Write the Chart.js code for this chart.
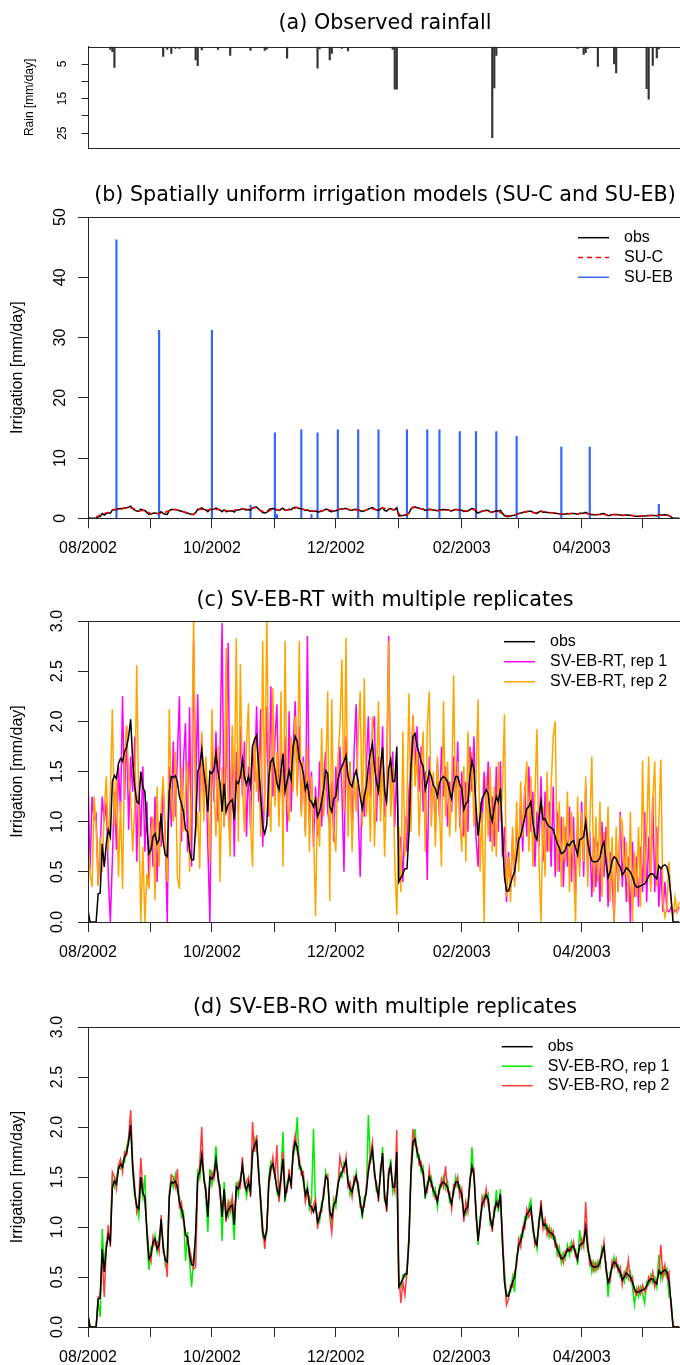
<!DOCTYPE html>
<html>
<head>
<meta charset="utf-8">
<title>Irrigation models</title>
<script src="https://cdn.jsdelivr.net/npm/chart.js@4.4.1/dist/chart.umd.min.js"></script>
<style>
  html, body { margin: 0; padding: 0; background: #fff; width: 680px; height: 1365px; overflow: hidden; }
  canvas { position: absolute; left: 0; }
</style>
</head>
<body>
<canvas id="rain" width="770" height="160" style="top:7px"></canvas>
<canvas id="su" width="770" height="390" style="top:179px"></canvas>
<canvas id="rt" width="770" height="385" style="top:584px"></canvas>
<canvas id="ro" width="770" height="374" style="top:991px"></canvas>
<script>
// day 0 = 01/08/2002, one value per day
var monthTickDays = [0, 31, 61, 92, 122, 153, 184, 212, 243, 273];
var monthTickLabels = ['08/2002', '', '10/2002', '', '12/2002', '', '02/2003', '', '04/2003', ''];

var rainTicks = [5, 10, 15, 20, 25];
var rainTickLabels = ['5', '', '15', '', '25'];
var suTicks = [0, 10, 20, 30, 40, 50];
var suTickLabels = ['0', '10', '20', '30', '40', '50'];
var irrTicks = [0, 0.5, 1, 1.5, 2, 2.5, 3];
var irrTickLabels = ['0.0', '0.5', '1.0', '1.5', '2.0', '2.5', '3.0'];

// (a) observed rainfall
var rainDays = [11, 12, 13, 37, 39, 41, 43, 45, 53, 54, 56, 64, 70, 80, 87, 88, 98, 113, 114, 119, 120, 125, 128,
  150, 151, 152, 199, 200, 201, 241, 244, 245, 246, 251, 259, 260, 275, 276, 278, 280, 281];
var rainVals = [0.8, 1.4, 6.0, 2.8, 0.8, 1.9, 0.5, 0.5, 3.8, 5.5, 0.9, 0.8, 2.5, 1.1, 1.1, 0.7, 3.3, 6.2, 0.6, 3.8, 1.9, 0.5, 1.2,
  0.8, 12.3, 12.3, 26.3, 11.9, 2.5, 0.5, 2.2, 1.7, 0.5, 5.7, 5.0, 7.6, 12.1, 15.2, 5.4, 3.2, 0.6];

// (b) SU-EB irrigation events
var suebDays = [14, 35, 61, 80, 92, 93, 105, 110, 113, 123, 133, 143, 157, 167, 173, 183, 191, 201, 211, 233, 247, 281];
var suebVals = [46.2, 31.2, 31.2, 2.2, 14.2, 0.6, 14.7, 0.6, 14.2, 14.7, 14.7, 14.7, 14.7, 14.7, 14.7, 14.4, 14.4, 14.4, 13.6, 11.8, 11.8, 2.3];

// (b) SU-C
var sucDays = [4, 7, 10, 13, 16, 19, 22, 25, 28, 31, 34, 37, 40, 43, 46, 49, 52, 55, 58, 61, 64, 67, 70, 73, 76, 79, 82, 85, 88, 91,
  94, 97, 100, 103, 106, 109, 112, 115, 118, 121, 124, 127, 130, 133, 136, 139, 142, 145, 148, 151, 154, 157, 160, 163, 166, 169,
  172, 175, 178, 181, 184, 187, 190, 193, 196, 199, 202, 205, 208, 211, 214, 217, 220, 223, 226, 229, 232, 235, 238, 241, 244,
  247, 250, 253, 256, 259, 262, 265, 268, 271, 274, 277, 280, 283, 286, 289];
var sucVals = [0.2, 0.75, 0.95, 1.45, 1.6, 1.75, 1.65, 1.25, 1.3, 0.75, 0.8, 0.85, 1.3, 1.45, 1.2, 0.9, 0.65, 1.55, 1.35, 1.45,
  1.5, 1.35, 1.2, 1.4, 1.6, 1.45, 1.8, 1.25, 1.0, 1.6, 1.35, 1.35, 1.45, 1.8, 1.5, 1.25, 1.2, 1.2, 1.45, 1.2,
  1.5, 1.6, 1.35, 1.4, 1.25, 1.65, 1.4, 1.7, 1.5, 1.45, 0.45, 0.55, 1.85, 1.65, 1.35, 1.45, 1.25, 1.45, 1.3, 1.45,
  1.3, 1.2, 1.5, 1.05, 1.3, 1.0, 1.2, 0.5, 0.4, 0.65, 0.95, 1.15, 0.9, 1.15, 1.0, 0.9, 0.75, 0.72, 0.8, 0.7,
  0.85, 0.7, 0.6, 0.72, 0.5, 0.65, 0.55, 0.52, 0.45, 0.36, 0.38, 0.47, 0.44, 0.55, 0.45, 0];

// observed irrigation
var obs = [
  0.12, 0, 0, 0, 0, 0.28, 0.29, 0.78, 0.55, 0.78,
  0.92, 0.85, 1.40, 1.46, 1.43, 1.58, 1.63, 1.60, 1.70, 1.74,
  1.85, 2.02, 1.60, 1.35, 1.20, 1.18, 1.50, 1.34, 1.30, 0.95,
  0.68, 0.72, 0.85, 0.88, 0.78, 0.82, 1.08, 0.80, 0.67, 0.65,
  1.30, 1.45, 1.44, 1.46, 1.40, 1.25, 1.18, 1.10, 0.92, 0.90,
  0.72, 0.62, 0.62, 0.95, 1.50, 1.55, 1.72, 1.50, 1.35, 1.10,
  1.50, 1.48, 1.52, 1.68, 1.50, 1.38, 1.10, 1.38, 1.10, 1.17,
  1.20, 1.22, 1.02, 1.40, 1.38, 1.45, 1.62, 1.45, 1.37, 1.45,
  1.35, 1.75, 1.82, 1.86, 1.55, 1.25, 0.95, 0.88, 0.97, 1.45,
  1.60, 1.63, 1.52, 1.38, 1.32, 1.50, 1.68, 1.30, 1.40, 1.51,
  1.42, 1.75, 1.85, 1.80, 1.62, 1.57, 1.48, 1.32, 1.38, 1.22,
  1.20, 1.15, 1.22, 1.05, 1.10, 1.20, 1.32, 1.51, 1.48, 1.15,
  1.10, 1.23, 1.25, 1.42, 1.50, 1.55, 1.60, 1.66, 1.45, 1.38,
  1.35, 1.45, 1.51, 1.40, 1.25, 1.13, 1.25, 1.35, 1.55, 1.68,
  1.78, 1.55, 1.40, 1.30, 1.55, 1.74, 1.30, 1.20, 1.53, 1.62,
  1.40, 1.40, 1.75, 0.40, 0.44, 0.48, 0.53, 0.53, 0.88, 1.55,
  1.85, 1.88, 1.75, 1.68, 1.60, 1.55, 1.32, 1.40, 1.50, 1.45,
  1.36, 1.33, 1.25, 1.38, 1.43, 1.45, 1.43, 1.40, 1.30, 1.23,
  1.37, 1.45, 1.45, 1.37, 1.33, 1.12, 1.18, 1.20, 1.45, 1.61,
  1.52, 1.15, 0.86, 1.05, 1.23, 1.27, 1.32, 1.28, 1.08, 1.00,
  1.15, 1.25, 1.20, 1.33, 0.85, 0.45, 0.31, 0.31, 0.38, 0.45,
  0.50, 0.66, 0.82, 0.86, 0.95, 1.04, 1.13, 1.15, 1.20, 1.00,
  0.86, 0.82, 1.05, 1.20, 1.02, 1.03, 0.98, 0.95, 0.94, 0.92,
  0.85, 0.78, 0.74, 0.68, 0.69, 0.72, 0.78, 0.76, 0.80, 0.81,
  0.74, 0.67, 0.82, 0.83, 0.85, 1.00, 0.80, 0.68, 0.61, 0.60,
  0.60, 0.61, 0.64, 0.75, 0.80, 0.60, 0.44, 0.50, 0.61, 0.65,
  0.63, 0.58, 0.55, 0.47, 0.50, 0.54, 0.52, 0.50, 0.45, 0.38,
  0.35, 0.35, 0.36, 0.37, 0.38, 0.41, 0.46, 0.48, 0.48, 0.45,
  0.43, 0.56, 0.53, 0.56, 0.57, 0.55, 0.45, 0.25, 0, 0,
  0, 0];

// (c) SV-EB-RT replicates
var rtRep1 = [
  1.47, 0.52, 1.25, 1.02, 1.07, 0.37, 0.72, 1.25, 1.00, 1.20,
  0.45, 0.00, 0.62, 1.30, 0.72, 1.55, 1.10, 2.25, 1.22, 1.95,
  0.92, 1.65, 1.30, 1.85, 0.60, 1.40, 0.85, 1.55, 0.70, 1.20,
  0.35, 1.05, 0.55, 1.25, 0.40, 1.00, 0.75, 1.35, 0.90, 0.00,
  1.55, 0.95, 1.80, 1.05, 1.65, 2.25, 0.80, 1.60, 1.98, 0.70,
  2.14, 0.55, 2.80, 1.30, 2.27, 1.10, 1.85, 1.20, 1.60, 0.75,
  0.00, 1.75, 1.20, 1.90, 1.00, 1.70, 2.98, 0.95, 1.60, 2.78,
  0.90, 1.85, 0.65, 1.70, 1.10, 1.95, 1.25, 1.80, 0.85, 1.55,
  0.95, 1.75, 1.40, 2.15, 1.20, 2.12, 0.75, 1.30, 2.15, 1.05,
  2.35, 1.25, 1.80, 2.17, 1.05, 1.70, 1.15, 1.85, 0.90, 2.10,
  1.10, 1.75, 2.20, 1.30, 1.95, 1.10, 1.65, 0.90, 2.85, 1.00,
  1.50, 0.75, 1.35, 0.85, 1.60, 0.95, 1.45, 1.70, 1.10, 0.95,
  1.40, 0.80, 1.55, 1.20, 1.75, 1.30, 0.50, 1.85, 1.15, 1.60,
  0.90, 1.70, 2.17, 1.10, 0.45, 1.40, 1.05, 1.55, 2.05, 1.25,
  1.90, 2.05, 1.00, 1.65, 1.20, 1.95, 1.05, 1.40, 2.85, 1.15,
  1.70, 0.95, 1.55, 0.60, 0.85, 0.40, 1.05, 0.70, 1.30, 1.60,
  2.05, 1.55, 1.95, 1.30, 1.75, 1.10, 1.50, 0.42, 1.65, 1.20,
  1.45, 0.90, 1.60, 1.05, 1.75, 1.25, 1.55, 0.95, 1.40, 1.10,
  1.65, 1.20, 1.80, 0.95, 1.50, 0.85, 1.40, 0.90, 1.75, 1.30,
  1.85, 0.85, 0.55, 1.20, 0.95, 1.50, 1.10, 1.60, 0.80, 1.25,
  0.75, 1.55, 0.90, 1.60, 0.65, 0.95, 0.20, 0.70, 0.30, 0.85,
  0.40, 1.00, 0.60, 1.25, 0.70, 1.35, 0.85, 1.55, 0.90, 1.30,
  0.55, 1.10, 0.75, 1.45, 0.60, 1.30, 0.70, 1.20, 0.55, 1.35,
  0.45, 1.10, 0.50, 1.05, 0.35, 0.95, 0.55, 1.15, 0.40, 1.05,
  0.30, 0.95, 0.55, 1.20, 0.45, 1.35, 0.50, 0.90, 0.25, 0.85,
  0.35, 0.80, 0.20, 1.00, 0.45, 0.95, 0.15, 0.70, 0.40, 0.00,
  0.75, 0.30, 1.10, 0.35, 0.85, 0.20, 0.65, 0.00, 0.80, 0.25,
  0.65, 0.15, 0.75, 0.30, 1.10, 0.20, 0.85, 0.35, 1.25, 0.30,
  0.95, 0.15, 0.55, 0.10, 0.40, 0.12, 0.10, 0.15, 0.08, 0.12,
  0.10, 0.15];
var rtRep2 = [
  0.80, 0.48, 0.35, 1.25, 0.95, 0.36, 0.85, 0.50, 1.10, 1.45,
  0.70, 1.30, 2.12, 0.95, 1.45, 0.45, 1.20, 0.33, 1.60, 1.96,
  1.45, 1.25, 0.70, 1.15, 2.56, 1.10, 0.00, 0.75, 0.00, 0.48,
  0.33, 0.90, 1.05, 0.22, 1.35, 0.55, 1.15, 1.45, 0.80, 0.40,
  2.12, 1.20, 1.00, 1.70, 0.45, 0.33, 1.55, 0.90, 1.30, 1.60,
  0.50, 1.40, 3.10, 0.85, 1.10, 0.53, 1.90, 1.00, 1.65, 1.20,
  0.60, 2.12, 1.35, 0.85, 1.75, 0.40, 1.55, 0.95, 2.73, 1.10,
  0.65, 1.96, 1.20, 2.83, 0.80, 2.57, 1.40, 0.90, 1.75, 2.18,
  1.00, 0.55, 1.85, 1.30, 1.75, 0.85, 2.80, 1.10, 3.10, 1.35,
  0.90, 2.33, 1.15, 1.70, 0.95, 2.30, 0.55, 2.80, 1.20, 1.00,
  1.85, 1.30, 2.05, 1.25, 2.80, 1.05, 1.60, 0.85, 1.75, 0.70,
  1.45, 0.95, 0.06, 1.25, 0.75, 1.93, 1.05, 1.40, 2.30, 0.21,
  2.22, 0.90, 0.70, 1.60, 1.95, 2.62, 1.10, 2.83, 0.85, 1.60,
  0.70, 1.45, 1.10, 1.85, 2.30, 0.95, 2.43, 1.05, 1.50, 0.80,
  2.05, 0.75, 1.40, 2.20, 1.00, 1.70, 0.65, 1.35, 2.80, 1.05,
  1.55, 0.60, 0.07, 0.95, 0.30, 1.90, 0.65, 1.20, 2.28, 0.90,
  2.07, 1.35, 1.70, 0.85, 1.50, 1.90, 0.70, 1.95, 2.30, 0.95,
  1.50, 0.75, 1.65, 1.15, 0.55, 2.20, 1.05, 1.60, 0.85, 1.30,
  2.46, 0.90, 1.60, 1.05, 0.70, 1.55, 0.60, 1.90, 1.25, 1.70,
  0.95, 1.40, 2.22, 0.50, 1.10, 0.00, 1.45, 0.85, 1.55, 0.70,
  1.35, 0.65, 1.60, 1.00, 1.30, 2.07, 0.25, 0.65, 0.20, 0.95,
  0.35, 1.20, 0.50, 1.40, 0.85, 1.30, 1.60, 0.70, 1.45, 0.55,
  1.25, 1.92, 0.60, 0.00, 1.15, 0.45, 1.50, 0.70, 1.35, 1.85,
  2.00, 0.50, 1.20, 0.35, 1.05, 0.60, 1.30, 0.30, 1.10, 0.55,
  0.00, 1.25, 0.45, 1.10, 0.60, 1.45, 0.35, 0.95, 1.65, 0.30,
  1.05, 0.40, 1.20, 0.25, 0.90, 0.55, 1.15, 0.20, 0.85, 0.00,
  0.95, 0.30, 1.05, 1.00, 0.45, 0.80, 0.20, 1.10, 0.00, 0.70,
  0.25, 0.95, 0.15, 1.61, 0.40, 0.85, 1.65, 0.30, 1.20, 1.60,
  0.35, 1.00, 1.62, 0.20, 0.05, 0.15, 0.60, 0.20, 0.05, 0.25,
  0.10, 0.20];

// (d) SV-EB-RO replicates
var roRep1 = [
  0.10, 0, 0, 0, 0, 0.25, 0.10, 0.98, 0.60, 0.85,
  0.88, 0.95, 1.48, 1.40, 1.50, 1.60, 1.58, 1.66, 1.65, 1.80,
  1.88, 2.00, 1.55, 1.30, 1.22, 1.10, 1.45, 1.30, 1.52, 0.90,
  0.57, 0.80, 0.80, 0.92, 0.75, 0.90, 1.02, 0.85, 0.62, 0.70,
  1.35, 1.50, 1.40, 1.52, 1.35, 1.30, 1.10, 1.15, 0.66, 0.95,
  0.65, 0.40, 0.70, 0.90, 1.55, 1.48, 1.70, 1.55, 1.30, 0.95,
  1.58, 1.42, 1.55, 1.81, 1.45, 1.42, 0.86, 1.45, 1.15, 1.10,
  1.25, 1.15, 0.87, 1.45, 1.32, 1.50, 1.58, 1.50, 1.30, 1.40,
  1.40, 1.70, 1.88, 1.82, 1.60, 1.20, 0.90, 0.92, 0.93, 1.50,
  1.65, 1.58, 1.55, 1.35, 1.28, 1.55, 1.95, 1.25, 1.45, 1.48,
  1.48, 1.70, 1.80, 2.10, 1.58, 1.60, 1.45, 1.28, 1.42, 1.18,
  1.25, 1.98, 1.18, 1.10, 1.05, 1.25, 1.28, 1.55, 1.45, 1.20,
  1.05, 1.28, 1.20, 1.45, 1.55, 1.50, 1.65, 1.62, 1.50, 1.32,
  1.40, 1.42, 1.55, 1.35, 1.30, 1.08, 1.30, 1.32, 2.12, 1.65,
  1.72, 1.60, 1.35, 1.35, 1.50, 1.80, 1.25, 1.25, 1.50, 1.68,
  1.35, 1.45, 1.65, 0.42, 0.40, 0.52, 0.50, 0.58, 0.92, 1.50,
  1.80, 1.98, 1.70, 1.72, 1.55, 1.60, 1.28, 1.45, 1.45, 1.50,
  1.32, 1.38, 1.20, 1.42, 1.40, 1.50, 1.38, 1.45, 1.25, 1.28,
  1.32, 1.50, 1.40, 1.42, 1.28, 1.15, 1.12, 1.25, 1.40, 1.80,
  1.48, 1.20, 0.82, 1.10, 1.18, 1.32, 1.28, 1.33, 1.02, 1.05,
  1.10, 1.37, 1.15, 1.38, 0.82, 0.58, 0.30, 0.35, 0.35, 0.50,
  0.35, 0.72, 0.78, 0.92, 0.90, 1.10, 1.08, 1.20, 1.27, 0.95,
  0.90, 0.78, 1.10, 1.15, 1.08, 0.98, 1.02, 0.90, 0.98, 0.88,
  0.90, 0.72, 0.80, 0.64, 0.74, 0.68, 0.82, 0.72, 0.85, 0.77,
  0.78, 0.62, 0.97, 0.80, 0.90, 0.95, 0.75, 0.72, 0.55, 0.65,
  0.56, 0.66, 0.60, 0.80, 0.75, 0.64, 0.30, 0.55, 0.58, 0.70,
  0.60, 0.62, 0.50, 0.52, 0.45, 0.58, 0.48, 0.55, 0.40, 0.22,
  0.38, 0.30, 0.40, 0.33, 0.24, 0.45, 0.42, 0.52, 0.44, 0.50,
  0.40, 0.72, 0.48, 0.60, 0.52, 0.58, 0.30, 0.28, 0, 0,
  0, 0];
var roRep2 = [
  0.12, 0, 0, 0, 0, 0.30, 0.32, 0.72, 0.30, 0.80,
  1.02, 0.80, 1.55, 1.50, 1.38, 1.62, 1.68, 1.55, 1.75, 1.72,
  1.90, 2.17, 1.65, 1.40, 1.15, 1.25, 1.69, 1.38, 1.25, 1.00,
  0.72, 0.65, 0.90, 0.82, 0.85, 0.75, 1.12, 0.75, 0.70, 0.50,
  1.28, 1.52, 1.50, 1.40, 1.58, 1.20, 1.25, 1.05, 0.95, 0.85,
  0.78, 0.68, 0.58, 0.60, 1.45, 1.62, 2.00, 1.45, 1.40, 1.15,
  1.45, 1.55, 1.48, 1.62, 1.55, 1.30, 1.18, 1.30, 1.05, 1.25,
  1.15, 1.30, 1.10, 1.35, 1.45, 1.40, 1.70, 1.40, 1.45, 1.50,
  1.30, 2.05, 1.75, 1.92, 1.50, 1.30, 1.00, 0.78, 1.02, 1.40,
  1.55, 1.70, 1.48, 1.82, 1.25, 1.45, 1.75, 1.35, 1.35, 1.58,
  1.38, 1.80, 1.92, 1.75, 1.70, 1.52, 1.55, 1.25, 1.35, 1.30,
  1.15, 1.22, 1.28, 0.98, 1.15, 1.15, 1.38, 1.48, 1.52, 1.10,
  0.94, 1.20, 1.30, 1.38, 1.70, 1.60, 1.55, 1.70, 1.40, 1.45,
  1.30, 1.50, 1.45, 1.45, 1.20, 1.20, 1.20, 1.40, 1.60, 1.72,
  1.85, 1.50, 1.45, 1.25, 1.60, 1.70, 1.35, 1.15, 1.58, 1.55,
  1.45, 1.35, 1.97, 0.55, 0.24, 0.45, 0.32, 0.55, 0.85, 1.62,
  1.98, 1.82, 1.80, 1.62, 1.65, 1.50, 1.38, 1.35, 1.58, 1.40,
  1.40, 1.28, 1.30, 1.35, 1.48, 1.40, 1.61, 1.35, 1.35, 1.18,
  1.42, 1.40, 1.50, 1.30, 1.38, 1.05, 1.25, 1.15, 1.50, 1.55,
  1.58, 1.10, 0.90, 1.00, 1.30, 1.22, 1.38, 1.22, 1.12, 0.95,
  1.20, 1.20, 1.25, 1.30, 0.95, 0.50, 0.22, 0.28, 0.42, 0.40,
  0.55, 0.62, 0.88, 0.80, 1.00, 0.98, 1.18, 1.10, 1.15, 1.05,
  0.82, 0.88, 1.00, 1.27, 0.98, 1.08, 0.92, 1.00, 0.90, 0.96,
  0.80, 0.82, 0.70, 0.72, 0.64, 0.76, 0.75, 0.80, 0.76, 0.85,
  0.70, 0.72, 0.78, 0.88, 0.80, 1.25, 0.85, 0.62, 0.66, 0.56,
  0.64, 0.58, 0.68, 0.70, 0.85, 0.55, 0.48, 0.45, 0.66, 0.60,
  0.68, 0.55, 0.60, 0.42, 0.55, 0.50, 0.67, 0.46, 0.50, 0.35,
  0.32, 0.40, 0.33, 0.42, 0.35, 0.38, 0.50, 0.45, 0.55, 0.40,
  0.48, 0.52, 0.82, 0.50, 0.62, 0.50, 0.55, 0.20, 0.02, 0,
  0, 0];

var xMax = 292.4;
var axisColor = '#262626';
var sansFont = '"Liberation Sans", Arial, sans-serif';
var titleFont = '"DejaVu Sans", Verdana, sans-serif';

Chart.defaults.font.family = sansFont;
Chart.defaults.color = '#000';
Chart.defaults.elements.point.radius = 0;
Chart.defaults.elements.line.borderWidth = 1.5;
Chart.defaults.elements.line.tension = 0;

function daily(vals) {
  return vals.map(function (v, i) { return { x: i, y: v }; });
}
function pairs(days, vals) {
  return days.map(function (d, i) { return { x: d, y: vals[i] }; });
}

// R style box round the plot region
var frame = {
  id: 'frame',
  afterDatasetsDraw: function (chart) {
    var a = chart.chartArea, ctx = chart.ctx;
    ctx.save();
    ctx.strokeStyle = axisColor;
    ctx.lineWidth = 1;
    ctx.strokeRect(Math.round(a.left) + 0.5, Math.round(a.top) + 0.5,
      Math.round(a.right - a.left), Math.round(a.bottom - a.top));
    ctx.restore();
  }
};

// legend inside the plot, like legend("topright", bty = "n")
var boxLegend = {
  id: 'boxLegend',
  afterDraw: function (chart, args, o) {
    if (!o || !o.x) return;
    var ctx = chart.ctx;
    ctx.save();
    ctx.font = '16px ' + sansFont;
    ctx.textBaseline = 'middle';
    chart.data.datasets.forEach(function (ds, i) {
      var y = o.y + i * o.step;
      ctx.strokeStyle = ds.borderColor;
      ctx.lineWidth = 1.5;
      ctx.setLineDash(ds.borderDash || []);
      ctx.beginPath();
      ctx.moveTo(o.x, y);
      ctx.lineTo(o.x + 31, y);
      ctx.stroke();
      ctx.setLineDash([]);
      ctx.fillStyle = '#000';
      ctx.fillText(ds.label, o.x + 46, y);
    });
    ctx.restore();
  }
};

function titleOpts(text, top, bottom) {
  return { display: true, text: text, color: '#000',
    font: { family: titleFont, size: 20.7, weight: 'normal' },
    padding: { top: top, bottom: bottom } };
}

function xAxis(show, height) {
  return {
    type: 'linear', min: 0, max: xMax, offset: false, display: show,
    afterBuildTicks: function (s) { s.ticks = monthTickDays.map(function (d) { return { value: d }; }); },
    afterFit: function (s) { s.height = height; },
    ticks: { autoSkip: false, maxRotation: 0, minRotation: 0, padding: 10.5, font: { size: 16 },
      callback: function (v, i) { return monthTickLabels[i]; } },
    grid: { offset: false, drawOnChartArea: false, tickLength: 10, color: axisColor },
    border: { color: axisColor }
  };
}

function yAxis(c) {
  return {
    type: 'linear', min: c.min, max: c.max, reverse: !!c.reverse,
    afterBuildTicks: function (s) { s.ticks = c.ticks.map(function (v) { return { value: v }; }); },
    afterFit: function (s) { s.width = 88; },
    ticks: { minRotation: 90, maxRotation: 90, crossAlign: 'center', padding: c.pad, font: { size: c.size },
      callback: function (v, i) { return c.labels[i]; } },
    grid: { drawOnChartArea: false, tickLength: c.tick, color: axisColor },
    border: { color: axisColor },
    title: { display: true, text: c.title, font: { size: c.size }, padding: { top: c.titlePad, bottom: 0 } }
  };
}

// empty right-hand axis so the title centres over the plot as in R
var spacer = {
  type: 'linear', axis: 'y', position: 'right',
  afterFit: function (s) { s.width = 88; },
  ticks: { display: false }, grid: { display: false }, border: { display: false }
};

function baseOptions(o) {
  return {
    responsive: false, animation: false, events: [],
    layout: { padding: { bottom: o.bottomPad || 0 } },
    plugins: {
      legend: { display: false },
      tooltip: { enabled: false },
      title: o.title,
      boxLegend: o.legend || {}
    },
    scales: { x: o.x, y: o.y, spacer: spacer }
  };
}

// (a)
new Chart(document.getElementById('rain'), {
  type: 'bar',
  data: { datasets: [{ label: 'rain', data: pairs(rainDays, rainVals), backgroundColor: '#333333', barThickness: 1.5 }] },
  options: baseOptions({
    title: titleOpts('(a) Observed rainfall', 4, 10.9),
    bottomPad: 17,
    x: xAxis(false, 0),
    y: yAxis({ min: 0, max: 29.3, reverse: true, ticks: rainTicks, labels: rainTickLabels, size: 12,
      tick: 6.5, pad: 11.8, title: 'Rain [mm/day]', titlePad: 22.8 })
  }),
  plugins: [frame]
});

// (b)
new Chart(document.getElementById('su'), {
  type: 'line',
  data: { datasets: [
    { label: 'obs', data: daily(obs), borderColor: '#000000', order: 1 },
    { label: 'SU-C', data: pairs(sucDays, sucVals), borderColor: '#ff0000', borderDash: [5, 4], order: 0 },
    { type: 'bar', label: 'SU-EB', data: pairs(suebDays, suebVals), borderColor: '#3366ff',
      backgroundColor: '#3366ff', borderWidth: 0, barThickness: 1.5, order: 2 }
  ] },
  options: baseOptions({
    title: titleOpts('(b) Spatially uniform irrigation models (SU-C and SU-EB)', 4, 9.2),
    x: xAxis(true, 50.7),
    y: yAxis({ min: 0, max: 50, ticks: suTicks, labels: suTickLabels, size: 16, tick: 10, pad: 9,
      title: 'Irrigation [mm/day]', titlePad: 8.4 }),
    legend: { x: 578, y: 58.7, step: 19.8 }
  }),
  plugins: [frame, boxLegend]
});

// (c)
new Chart(document.getElementById('rt'), {
  type: 'line',
  data: { datasets: [
    { label: 'obs', data: daily(obs), borderColor: '#000000', order: 0 },
    { label: 'SV-EB-RT, rep 1', data: daily(rtRep1), borderColor: '#ff00ff', order: 2 },
    { label: 'SV-EB-RT, rep 2', data: daily(rtRep2), borderColor: '#ffa500', order: 1 }
  ] },
  options: baseOptions({
    title: titleOpts('(c) SV-EB-RT with multiple replicates', 4, 8.2),
    x: xAxis(true, 47),
    y: yAxis({ min: 0, max: 3, ticks: irrTicks, labels: irrTickLabels, size: 16, tick: 10, pad: 9,
      title: 'Irrigation [mm/day]', titlePad: 8.4 }),
    legend: { x: 504, y: 57.7, step: 20 }
  }),
  plugins: [frame, boxLegend]
});

// (d)
new Chart(document.getElementById('ro'), {
  type: 'line',
  data: { datasets: [
    { label: 'obs', data: daily(obs), borderColor: '#000000', order: 0 },
    { label: 'SV-EB-RO, rep 1', data: daily(roRep1), borderColor: '#00ee00', order: 2 },
    { label: 'SV-EB-RO, rep 2', data: daily(roRep2), borderColor: '#ff3b3b', order: 1 }
  ] },
  options: baseOptions({
    title: titleOpts('(d) SV-EB-RO with multiple replicates', 4, 7.2),
    x: xAxis(true, 38),
    y: yAxis({ min: 0, max: 3, ticks: irrTicks, labels: irrTickLabels, size: 16, tick: 10, pad: 9,
      title: 'Irrigation [mm/day]', titlePad: 8.4 }),
    legend: { x: 501.7, y: 55.7, step: 19.5 }
  }),
  plugins: [frame, boxLegend]
});
</script>
</body>
</html>
